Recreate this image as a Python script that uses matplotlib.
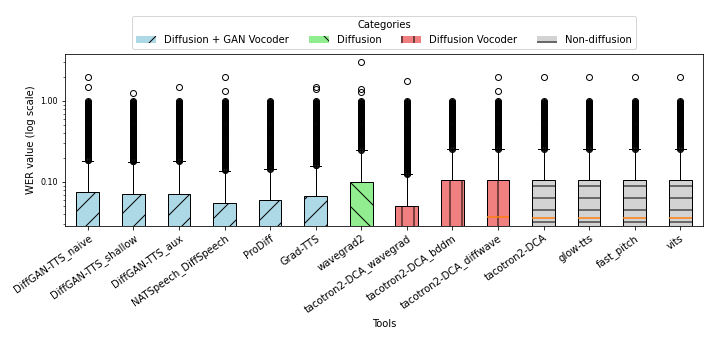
import matplotlib
matplotlib.use("Agg")
import matplotlib.pyplot as plt
from matplotlib.patches import Patch
from matplotlib.ticker import FormatStrFormatter

# ---------------- data ----------------
tools = ["DiffGAN-TTS_naive", "DiffGAN-TTS_shallow", "DiffGAN-TTS_aux",
         "NATSpeech_DiffSpeech", "ProDiff", "Grad-TTS", "wavegrad2",
         "tacotron2-DCA_wavegrad", "tacotron2-DCA_bddm", "tacotron2-DCA_diffwave",
         "tacotron2-DCA", "glow-tts", "fast_pitch", "vits"]
categories = ["Diffusion + GAN Vocoder"] * 6 + ["Diffusion"] + \
             ["Diffusion Vocoder"] * 3 + ["Non-diffusion"] * 4

q1 = [0, 0, 0, 0, 0, 0, 0, 0, 0, 0, 0, 0, 0, 0]
medians = [0, 0, 0, 0, 0, 0, 0, 0, 0, 0.037, 0.0355, 0.0355, 0.0355, 0.0355]
q3 = [0.0746, 0.0718, 0.0718, 0.0556, 0.0594, 0.0672, 0.100,
      0.050, 0.105, 0.105, 0.105, 0.105, 0.105, 0.105]
whisk_lo = [0, 0, 0, 0, 0, 0, 0, 0, 0, 0, 0, 0, 0, 0]
whisk_hi = [0.183, 0.178, 0.180, 0.138, 0.145, 0.159, 0.248,
            0.124, 0.255, 0.255, 0.255, 0.255, 0.255, 0.255]

# observed discrete WER levels making up the dense outlier columns
wer_levels = [0.12, 0.123, 0.125, 0.128, 0.13, 0.133, 0.136, 0.14, 0.143, 0.146,
              0.15, 0.154, 0.158, 0.161, 0.164, 0.167, 0.171, 0.176, 0.18, 0.182,
              0.185, 0.188, 0.192, 0.196, 0.2, 0.205, 0.21, 0.214, 0.219, 0.222,
              0.227, 0.231, 0.235, 0.24, 0.245, 0.25, 0.256, 0.263, 0.268, 0.273,
              0.278, 0.286, 0.292, 0.3, 0.308, 0.316, 0.323, 0.333, 0.34, 0.35,
              0.357, 0.364, 0.37, 0.375, 0.381, 0.389, 0.4, 0.409, 0.417, 0.421,
              0.429, 0.438, 0.444, 0.455, 0.462, 0.467, 0.476, 0.483, 0.5, 0.508,
              0.52, 0.529, 0.538, 0.545, 0.556, 0.563, 0.571, 0.583, 0.6, 0.611,
              0.625, 0.636, 0.647, 0.656, 0.667, 0.679, 0.692, 0.7, 0.714, 0.727,
              0.737, 0.75, 0.762, 0.778, 0.786, 0.8, 0.813, 0.818, 0.833, 0.846,
              0.857, 0.867, 0.875, 0.882, 0.889, 0.9, 0.909, 0.917, 0.923, 0.929,
              0.938, 0.944, 0.95, 0.955, 0.96, 1.0]
extra_outliers = [[1.5, 2.0], [1.25], [1.5], [1.33, 2.0], [], [1.4, 1.5],
                  [1.29, 1.39, 3.0], [1.75], [], [1.33, 2.0],
                  [2.0], [2.0], [2.0], [2.0]]

cat_names = ["Diffusion + GAN Vocoder", "Diffusion", "Diffusion Vocoder", "Non-diffusion"]
cat_colors = ["lightblue", "lightgreen", "lightcoral", "lightgray"]
cat_hatches = ["/", "\\", "|", "-"]

# ---------------- plot ----------------
fig = plt.figure(figsize=(10, 341 / 72), dpi=72)
ax = fig.add_axes([65 / 720, 1 - 226 / 341, (703 - 65) / 720, (226 - 54) / 341])

stats = []
for i, name in enumerate(tools):
    fl = [v for v in wer_levels if whisk_hi[i] < v <= 1.0] + extra_outliers[i]
    stats.append(dict(label=name, q1=q1[i], med=medians[i], q3=q3[i],
                      whislo=whisk_lo[i], whishi=whisk_hi[i], fliers=fl))

bp = ax.bxp(stats, patch_artist=True, widths=0.5,
            boxprops=dict(edgecolor="black", linewidth=1.0),
            whiskerprops=dict(color="black", linewidth=1.0),
            capprops=dict(color="black", linewidth=1.0),
            medianprops=dict(color="C1", linewidth=1.5),
            flierprops=dict(marker="o", markerfacecolor="none",
                            markeredgecolor="black", markersize=6))

for box, cat in zip(bp["boxes"], categories):
    k = cat_names.index(cat)
    box.set_facecolor(cat_colors[k])
    box.set_hatch(cat_hatches[k])

ax.set_yscale("log")
ax.set_ylim(0.0286, 3.8)
ax.yaxis.set_major_formatter(FormatStrFormatter("%.2f"))
ax.tick_params(axis="y", labelsize=8)
ax.tick_params(axis="x", labelsize=10)
plt.setp(ax.get_xticklabels(), rotation=35, ha="right", rotation_mode="anchor")
ax.set_ylabel("WER value (log scale)", fontsize=10)
ax.set_xlabel("Tools", fontsize=10)

handles = [Patch(facecolor=c, hatch=h, label=n)
           for n, c, h in zip(cat_names, cat_colors, cat_hatches)]
ax.legend(handles=handles, title="Categories", loc="lower center",
          bbox_to_anchor=(0.5, 1.0), ncol=4, fontsize=10, title_fontsize=10)

fig.savefig("out.png", dpi=72)
